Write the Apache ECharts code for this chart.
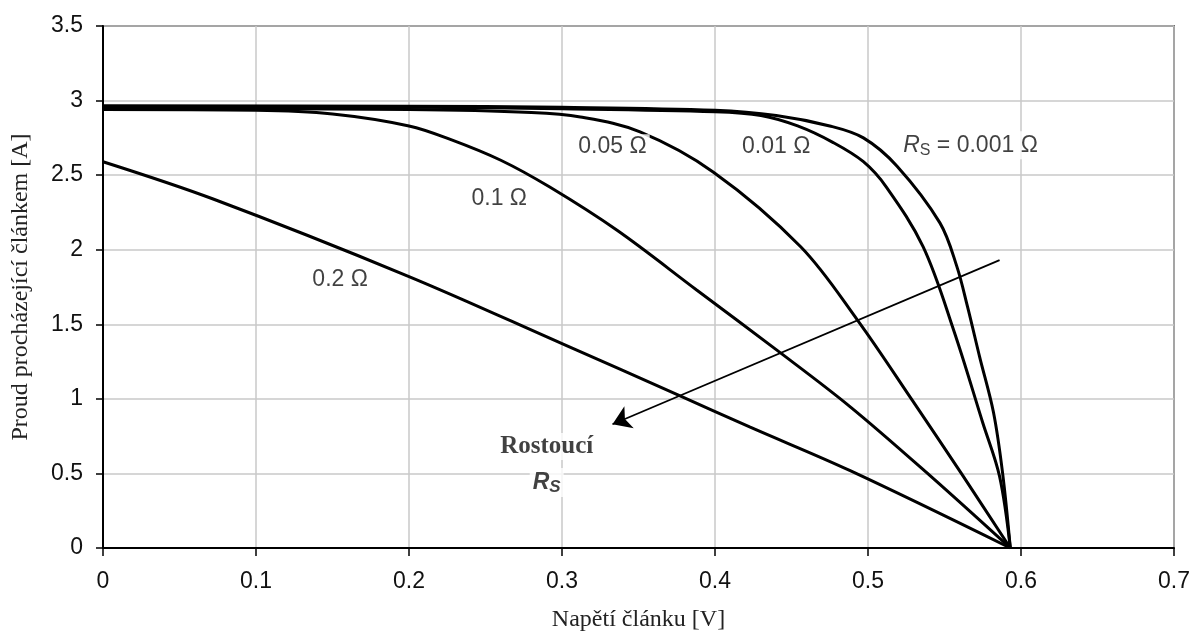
<!DOCTYPE html>
<html>
<head>
<meta charset="utf-8">
<title>I-V charakteristika</title>
<script src="https://cdn.jsdelivr.net/npm/echarts@6/dist/echarts.min.js"></script>
<style>
  html, body { margin: 0; padding: 0; background: #fff; }
  #chart { width: 1195px; height: 637px; }
</style>
</head>
<body>
<div id="chart"></div>
<script>
// napětí [V] a proud [A] pro jednotlivé sériové odpory
const rs0001V = [0, 0.2, 0.3, 0.4, 0.44, 0.475, 0.497, 0.519, 0.547, 0.558, 0.565, 0.573, 0.582, 0.588, 0.593];
const rs0001I = [2.965, 2.962, 2.955, 2.935, 2.9, 2.83, 2.75, 2.56, 2.18, 1.89, 1.62, 1.28, 0.91, 0.5, 0];

const rs001V = [0, 0.2, 0.3, 0.4, 0.43, 0.454, 0.477, 0.497, 0.512, 0.536, 0.556, 0.575, 0.586, 0.593];
const rs001I = [2.96, 2.955, 2.945, 2.925, 2.9, 2.83, 2.72, 2.59, 2.42, 2.02, 1.46, 0.84, 0.48, 0];

const rs005V = [0, 0.2, 0.28, 0.312, 0.351, 0.399, 0.456, 0.493, 0.529, 0.561, 0.593];
const rs005I = [2.95, 2.94, 2.92, 2.89, 2.79, 2.52, 2.02, 1.53, 0.99, 0.5, 0];

const rs01V = [0, 0.1, 0.15, 0.2, 0.227, 0.26, 0.292, 0.336, 0.388, 0.44, 0.488, 0.54, 0.593];
const rs01I = [2.94, 2.935, 2.91, 2.83, 2.74, 2.6, 2.42, 2.13, 1.73, 1.33, 0.95, 0.49, 0];

const rs02V = [0, 0.072, 0.2, 0.3, 0.375, 0.423, 0.488, 0.593];
const rs02I = [2.59, 2.34, 1.82, 1.37, 1.03, 0.81, 0.52, 0];

// popisky křivek (poloha v souřadnicích grafu)
const labelTexts = ['{i|R}{s|S} = 0.001 Ω', '0.01 Ω', '0.05 Ω', '0.1 Ω', '0.2 Ω', '{b|Rostoucí}', '{bi|R}{bs|S}'];
const labelX = [0.567, 0.44, 0.333, 0.259, 0.155, 0.29, 0.29];
const labelY = [2.70, 2.69, 2.69, 2.34, 1.80, 0.68, 0.44];

// šipka "rostoucí Rs"
const arrowFrom = [0.586, 1.93];
const arrowTo = [0.333, 0.83];

function zip(xs, ys) {
  return xs.map((x, i) => [x, ys[i]]);
}

const curves = [
  ['0.001', rs0001V, rs0001I],
  ['0.01', rs001V, rs001I],
  ['0.05', rs005V, rs005I],
  ['0.1', rs01V, rs01I],
  ['0.2', rs02V, rs02I]
];

const sans = 'Liberation Sans, Arial, sans-serif';
const serif = 'Liberation Serif, Times New Roman, serif';

let series = curves.map(c => ({
  name: c[0],
  type: 'line',
  data: zip(c[1], c[2]),
  showSymbol: false,
  smooth: 0.35,
  lineStyle: { color: '#000', width: 3 },
  z: 5
}));

series.push({
  type: 'lines',
  coordinateSystem: 'cartesian2d',
  data: [{ coords: [arrowFrom, arrowTo] }],
  symbol: ['none', 'arrow'],
  symbolSize: [0, 18],
  lineStyle: { color: '#000', width: 1.8, opacity: 1 },
  z: 6
});

series.push({
  type: 'scatter',
  symbolSize: 0,
  data: labelTexts.map((t, i) => ({ value: [labelX[i], labelY[i]], label: { formatter: t } })),
  label: {
    show: true,
    position: 'inside',
    color: '#111',
    fontFamily: sans,
    fontSize: 23,
    backgroundColor: '#fff',
    padding: [1, 3],
    rich: {
      i: { fontFamily: sans, fontSize: 23, fontStyle: 'italic', color: '#111' },
      s: { fontFamily: sans, fontSize: 16, color: '#111', padding: [10, 0, 0, 0] },
      b: { fontFamily: serif, fontSize: 25, fontWeight: 'bold', color: '#111' },
      bi: { fontFamily: sans, fontSize: 23, fontWeight: 'bold', fontStyle: 'italic', color: '#111' },
      bs: { fontFamily: sans, fontSize: 17, fontWeight: 'bold', fontStyle: 'italic', color: '#111', padding: [10, 0, 0, 0] }
    }
  },
  z: 10
});

const chart = echarts.init(document.getElementById('chart'));
chart.setOption({
  animation: false,
  backgroundColor: '#fff',
  grid: {
    left: 103, right: 21, top: 26, bottom: 89,
    show: true, borderColor: '#000', borderWidth: 1.5
  },
  xAxis: {
    type: 'value',
    min: 0, max: 0.7, interval: 0.1,
    name: 'Napětí článku [V]',
    nameLocation: 'middle',
    nameGap: 60,
    nameTextStyle: { fontFamily: serif, fontSize: 24, color: '#222' },
    axisLine: { show: true, lineStyle: { color: '#000', width: 2 } },
    axisTick: { show: true, length: 8, lineStyle: { color: '#000', width: 1.5 } },
    axisLabel: { fontFamily: sans, fontSize: 23, color: '#111', margin: 22 },
    splitLine: { show: true, lineStyle: { color: '#c8c8c8', width: 1.5 } }
  },
  yAxis: {
    type: 'value',
    min: 0, max: 3.5, interval: 0.5,
    name: 'Proud procházející článkem [A]',
    nameLocation: 'middle',
    nameGap: 70,
    nameTextStyle: { fontFamily: serif, fontSize: 24, color: '#222' },
    axisLine: { show: true, lineStyle: { color: '#000', width: 2 } },
    axisTick: { show: true, length: 7, lineStyle: { color: '#000', width: 1.5 } },
    axisLabel: { fontFamily: sans, fontSize: 23, color: '#111', margin: 20 },
    splitLine: { show: true, lineStyle: { color: '#c8c8c8', width: 1.5 } }
  },
  series: series
});
</script>
</body>
</html>
